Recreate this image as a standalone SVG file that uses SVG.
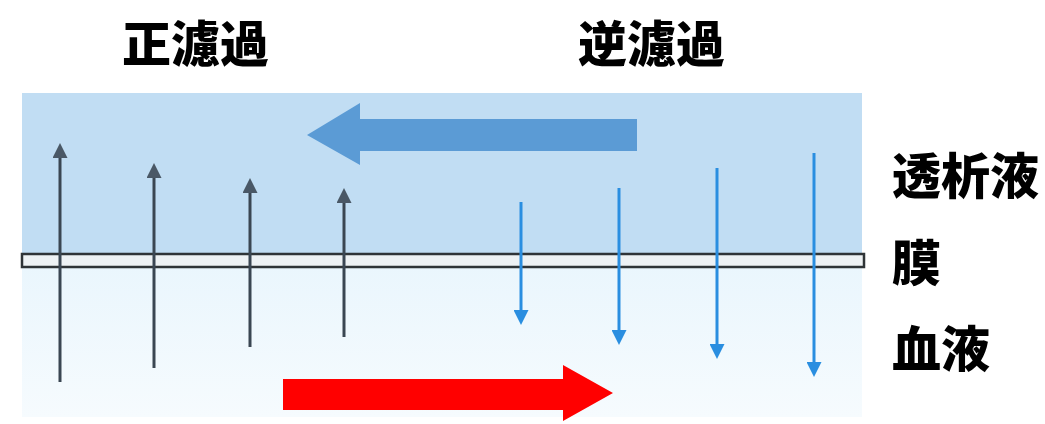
<svg xmlns="http://www.w3.org/2000/svg" width="1045" height="424" viewBox="0 0 1045 424">
<style>
.lbl{font-family:"Noto Sans CJK JP","Noto Sans CJK SC",sans-serif;font-weight:900;font-size:49px;fill:#000}
.up{stroke:#3a4652;stroke-width:3;fill:none;marker-end:url(#hUp)}
.dn{stroke:#2a8ee0;stroke-width:3;fill:none;marker-end:url(#hDn)}
</style>
<defs>
<marker id="hUp" viewBox="0 0 10 10" refX="2" refY="5" markerWidth="5" markerHeight="5" orient="auto" markerUnits="strokeWidth"><path d="M0,0 L10,5 L0,10 z" fill="#4a5866"/></marker>
<marker id="hDn" viewBox="0 0 10 10" refX="2" refY="5" markerWidth="5" markerHeight="5" orient="auto" markerUnits="strokeWidth"><path d="M0,0 L10,5 L0,10 z" fill="#2a8ee0"/></marker>
<linearGradient id="blood" x1="0" y1="0" x2="0" y2="1"><stop offset="0" stop-color="#eaf6fd"/><stop offset="1" stop-color="#f6fbfe"/></linearGradient>
</defs>
<rect width="1045" height="424" fill="#ffffff"/>
<g id="dialysate"><rect x="22" y="93" width="840" height="162" fill="#c1ddf3"/></g>
<g id="blood-area"><rect x="22" y="267" width="840" height="150" fill="url(#blood)"/></g>
<g id="membrane"><rect x="22" y="254" width="842" height="13" fill="#eef2f4" stroke="#2f3437" stroke-width="2.5"/></g>
<g id="connectors">
<line class="up" x1="60" y1="382" x2="60" y2="155"/>
<line class="up" x1="154" y1="368" x2="154" y2="175"/>
<line class="up" x1="250" y1="347" x2="250" y2="190"/>
<line class="up" x1="344" y1="337" x2="344" y2="200"/>
<line class="dn" x1="521" y1="202" x2="521" y2="313"/>
<line class="dn" x1="619" y1="188" x2="619" y2="333"/>
<line class="dn" x1="717" y1="168" x2="717" y2="347"/>
<line class="dn" x1="814" y1="153" x2="814" y2="365"/>
</g>
<g id="flow-dialysate"><path d="M637,119 L360,119 L360,103 L307,135 L360,165 L360,151 L637,151 z" fill="#5b9bd5"/></g>
<g id="flow-blood"><path d="M283,379 L563,379 L563,365 L613,393 L563,421 L563,410 L283,410 z" fill="#ff0000"/></g>
<g id="title-forward"><text class="lbl" x="122" y="62">正濾過</text></g>
<g id="title-back"><text class="lbl" x="578" y="62">逆濾過</text></g>
<g id="label-dialysate"><text class="lbl" x="892" y="194">透析液</text></g>
<g id="label-membrane"><text class="lbl" x="892" y="281">膜</text></g>
<g id="label-blood"><text class="lbl" x="892" y="367">血液</text></g>
</svg>
